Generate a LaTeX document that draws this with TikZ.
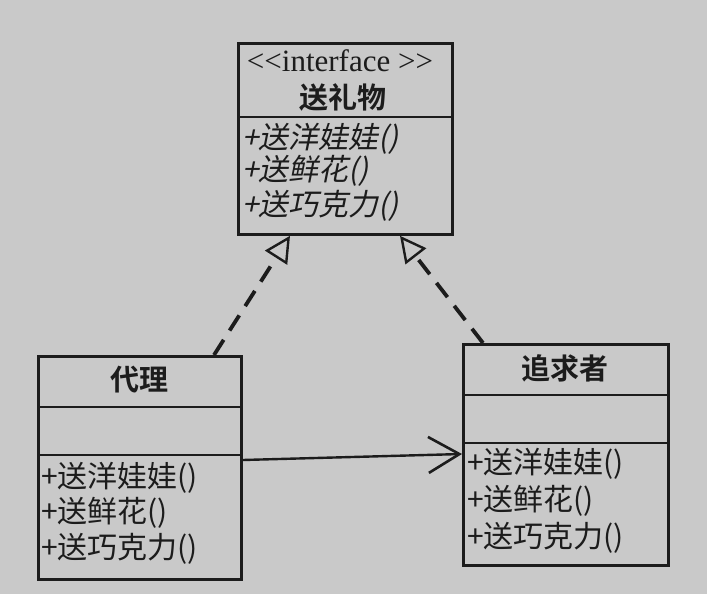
\documentclass[tikz,border=0pt]{standalone}
\usepackage{fontspec}
\setmainfont{Liberation Serif}
\newfontfamily\hei[BoldFont={Noto Sans CJK SC Bold}]{Noto Sans CJK SC}
\newfontfamily\heisl[FakeSlant=0.2]{Noto Sans CJK SC}
\usetikzlibrary{arrows.meta}
\definecolor{paper}{HTML}{C9C9C9}
\definecolor{ink}{HTML}{1C1C1C}
\tikzset{
  classbox/.style={draw=ink, line width=2.8pt, anchor=north west, inner sep=0pt},
  divider/.style={draw=ink, line width=2.8pt},
  classname/.style={font=\hei\bfseries\fontsize{29}{32}\selectfont, text=ink},
  stereo/.style={font=\fontsize{31}{34}\selectfont, text=ink},
  oper/.style={font=\hei\fontsize{30}{34}\selectfont, text=ink, anchor=west, inner sep=0pt},
  abstractop/.style={oper, font=\heisl\fontsize{30}{34}\selectfont},
  realize/.style={draw=ink, line width=3.8pt, dash pattern=on 18pt off 11pt,
    -{Triangle[open, length=26pt, width=26pt, line width=2.4pt]}},
  assoc/.style={draw=ink, line width=2.4pt, -{Straight Barb[length=31pt, width=36pt, line width=2.6pt]}}
}
\begin{document}
\begin{tikzpicture}[x=1pt, y=-1pt]
\fill[paper] (0,0) rectangle (707,594);
\useasboundingbox (0,0) rectangle (707,594);

% interface 送礼物
\node[classbox, minimum width=214pt, minimum height=191pt] (iface) at (237,42) {};
\draw[divider] (237,117) -- (451,117);
\node[stereo] (istereo) at (340,61) {<{}<interface >{}>};
\node[classname] (iname) at (343,97) {送礼物};
\node[abstractop] (iop1) at (242,139) {+送洋娃娃()};
\node[abstractop] (iop2) at (242,171) {+送鲜花()};
\node[abstractop] (iop3) at (242,206) {+送巧克力()};

% class 代理
\node[classbox, minimum width=203pt, minimum height=223pt] (proxy) at (37,355) {};
\draw[divider] (37,407) -- (240,407);
\draw[divider] (37,455) -- (240,455);
\node[classname] (pname) at (139,380) {代理};
\node[oper] (pop1) at (41,478) {+送洋娃娃()};
\node[oper] (pop2) at (41,513) {+送鲜花()};
\node[oper] (pop3) at (41,549) {+送巧克力()};

% class 追求者
\node[classbox, minimum width=205pt, minimum height=221pt] (suitor) at (462,343) {};
\draw[divider] (462,395) -- (667,395);
\draw[divider] (462,443) -- (667,443);
\node[classname] (sname) at (565,368) {追求者};
\node[oper] (sop1) at (467,464) {+送洋娃娃()};
\node[oper] (sop2) at (467,501) {+送鲜花()};
\node[oper] (sop3) at (467,538) {+送巧克力()};

% realizations and association
\draw[realize] ([xshift=177pt]proxy.north west) -- ([xshift=53pt]iface.south west);
\draw[realize] ([xshift=21pt]suitor.north west) -- ([xshift=163pt]iface.south west);
\draw[assoc] ([yshift=-105pt]proxy.north east) -- ([yshift=-111pt]suitor.north west);
\end{tikzpicture}
\end{document}
